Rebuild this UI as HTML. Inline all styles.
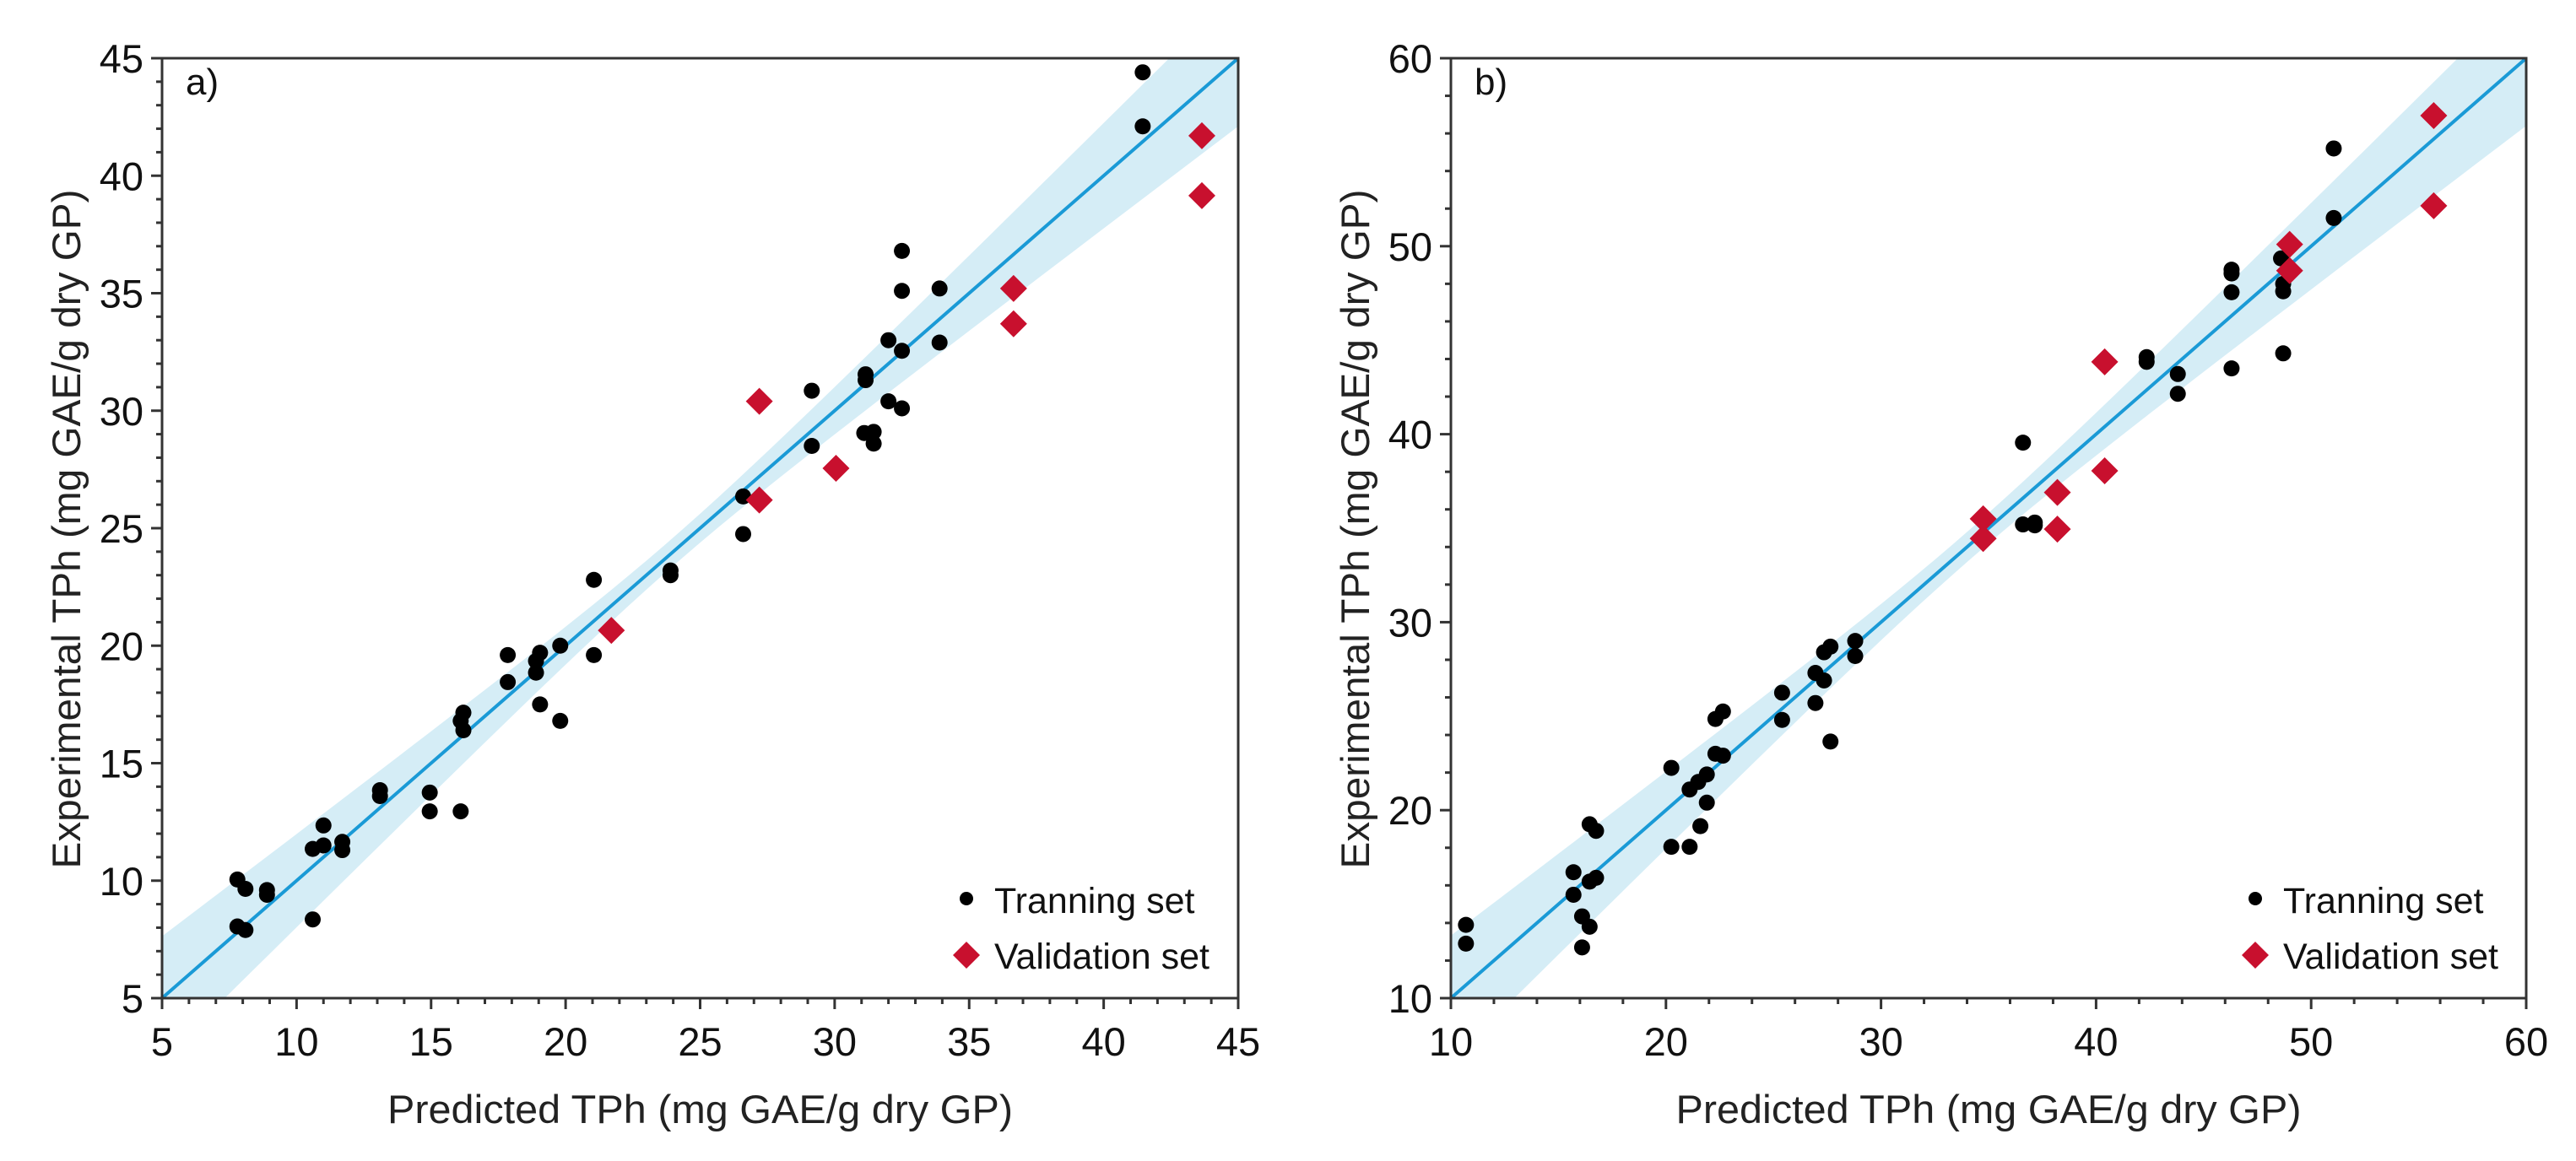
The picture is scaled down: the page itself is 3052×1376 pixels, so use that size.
<!DOCTYPE html>
<html><head><meta charset="utf-8"><style>
html,body{margin:0;padding:0;background:#fff;}
svg{display:block;font-family:"Liberation Sans",sans-serif;}
</style></head><body>
<svg id="chart" width="3052" height="1376" viewBox="0 0 3052 1376" xmlns="http://www.w3.org/2000/svg"></svg>
<script>
// Panel a data
const trainA_x = [41.45,41.45,32.5,32.5,33.9,33.9,32.0,32.5,31.15,31.15,32.0,32.5,29.15,29.15,31.1,31.45,31.45,26.6,26.6,23.9,23.9,21.05,21.05,19.8,19.05,18.9,18.9,17.85,17.85,19.05,19.8,16.2,16.1,16.2,16.1,14.95,14.95,13.1,13.1,11.0,11.0,10.6,11.7,11.7,10.6,8.9,8.9,7.8,8.1,7.8,8.1];
const trainA_y = [44.4,42.1,36.8,35.1,35.2,32.9,33.0,32.55,31.55,31.3,30.4,30.1,30.85,28.5,29.05,29.1,28.6,26.35,24.75,23.2,23.0,22.8,19.6,20.0,19.7,19.35,18.85,19.6,18.45,17.5,16.8,17.15,16.8,16.4,12.95,13.75,12.95,13.85,13.6,12.35,11.5,11.35,11.65,11.3,8.35,9.6,9.4,10.05,9.65,8.05,7.9];
const validA_x = [43.65,43.65,36.65,36.65,27.2,27.2,30.05,21.7];
const validA_y = [41.7,39.15,35.2,33.7,30.4,26.2,27.55,20.65];
const ticksA = [5,10,15,20,25,30,35,40,45];
// Panel b data
const trainB_x = [51.05,51.05,46.3,46.3,46.3,46.3,48.6,48.7,48.7,48.7,42.35,42.35,43.8,43.8,36.6,36.6,37.15,37.15,28.8,28.8,27.65,27.35,26.95,27.35,26.95,27.65,25.4,25.4,22.65,22.3,22.3,22.65,21.9,21.5,21.1,21.9,21.6,20.25,20.25,21.1,16.45,16.75,15.7,15.7,16.45,16.75,16.1,16.45,16.1,10.7,10.7];
const trainB_y = [55.2,51.5,48.75,48.55,47.55,43.5,49.35,48.0,47.6,44.3,44.1,43.85,43.2,42.15,39.55,35.2,35.3,35.15,29.0,28.2,28.7,28.4,27.3,26.9,25.7,23.65,26.25,24.8,25.25,24.85,23.0,22.9,21.9,21.5,21.1,20.4,19.15,22.25,18.05,18.05,19.25,18.9,16.7,15.5,16.2,16.4,14.35,13.8,12.7,13.9,12.9];
const validB_x = [55.7,55.7,49.0,49.0,40.4,40.4,38.2,38.2,34.75,34.75];
const validB_y = [56.95,52.15,50.1,48.7,43.85,38.05,36.9,34.95,35.5,34.45];
const ticksB = [10,20,30,40,50,60];

const NS="http://www.w3.org/2000/svg";
const svg=document.getElementById('chart');
function mk(tag,attrs,parent){const e=document.createElementNS(NS,tag);for(const k in attrs)e.setAttribute(k,attrs[k]);(parent||svg).appendChild(e);return e;}

function panel(cfg){
  const g=mk('g',{});
  
  
  const L=cfg.left,R=cfg.right,T=69,B=1183,min=cfg.min,max=cfg.max;
  const sx=v=>L+(v-min)/(max-min)*(R-L);
  const sy=v=>B-(v-min)/(max-min)*(B-T);
  const cp=mk('clipPath',{id:'clip'+cfg.id},g);
  mk('rect',{x:L,y:T,width:R-L,height:B-T},cp);
  let up=[],lo=[];
  for(let i=0;i<=60;i++){const x=min+(max-min)*i/60;const hw=Math.sqrt(cfg.h0*cfg.h0+cfg.b*(x-cfg.xc)*(x-cfg.xc));up.push(sx(x)+','+sy(x+hw));lo.unshift(sx(x)+','+sy(x-hw));}
  const band=mk('polygon',{points:up.concat(lo).join(' '),fill:'#d5edf6','clip-path':'url(#clip'+cfg.id+')'},g);
  
  
  const fit=mk('line',{x1:sx(min),y1:sy(min),x2:sx(max),y2:sy(max),stroke:'#1a9ad6','stroke-width':4},g);
  
  
  const fr=mk('rect',{x:L,y:T,width:R-L,height:B-T,fill:'none',stroke:'#333','stroke-width':3},g);
  
  
  for(let v=min;v<=max+1e-9;v+=cfg.minor){
    const maj=cfg.ticks.some(t=>Math.abs(t-v)<1e-9);const len=maj?13:7;
    mk('line',{x1:sx(v),y1:B,x2:sx(v),y2:B+len,stroke:'#333','stroke-width':3},g);
    mk('line',{x1:L,y1:sy(v),x2:L-len,y2:sy(v),stroke:'#333','stroke-width':3},g);
  }
  cfg.ticks.forEach(t=>{
    const xt=mk('text',{x:sx(t),y:1251,'font-size':47,'text-anchor':'middle',fill:'#111'},g);
    xt.textContent=t;
    
    
    const yt=mk('text',{x:L-22,y:sy(t)+17,'font-size':47,'text-anchor':'end',fill:'#111'},g);
    yt.textContent=t;
    
    
  });
  cfg.tx.forEach((x,i)=>{
    const c=mk('circle',{cx:sx(x),cy:sy(cfg.ty[i]),r:9.5,fill:'#000'},g);
    
    
  });
  cfg.vx.forEach((x,i)=>{
    const cx=sx(x),cy=sy(cfg.vy[i]),d=16;
    const p=mk('polygon',{points:`${cx},${cy-d} ${cx+d},${cy} ${cx},${cy+d} ${cx-d},${cy}`,fill:'#c8102e'},g);
    
    
  });
  const pl=mk('text',{x:L+28,y:112,'font-size':44,fill:'#111'},g);
  pl.textContent=cfg.label;
  
  
  const lx=L+953;
  const lg=mk('g',{},g);
  
  
  mk('circle',{cx:lx,cy:1065,r:8,fill:'#000'},lg);
  const t1=mk('text',{x:lx+33,y:1082,'font-size':43,fill:'#111'},lg);t1.textContent='Tranning set';
  
  
  mk('polygon',{points:`${lx},${1132-16} ${lx+16},1132 ${lx},${1132+16} ${lx-16},1132`,fill:'#c8102e'},lg);
  const t2=mk('text',{x:lx+33,y:1148,'font-size':43,fill:'#111'},lg);t2.textContent='Validation set';
  
  
  const xt=mk('text',{x:(L+R)/2,y:1331,'font-size':47,'text-anchor':'middle',textLength:741,lengthAdjust:'spacingAndGlyphs',fill:'#222'},g);
  xt.textContent='Predicted TPh (mg GAE/g dry GP)';
  
  
  const ycx=L-113;
  const yt=mk('text',{x:ycx,y:627,'font-size':47,'text-anchor':'middle',textLength:805,lengthAdjust:'spacingAndGlyphs',transform:`rotate(-90 ${ycx} 627)`,dy:16,fill:'#222'},g);
  yt.textContent='Experimental TPh (mg GAE/g dry GP)';
  
  
}
panel({id:'a',name:'panel-a',label:'a)',left:192,right:1467,min:5,max:45,minor:1,ticks:ticksA,tx:trainA_x,ty:trainA_y,vx:validA_x,vy:validA_y,xc:24,h0:0.6,b:0.01825});
panel({id:'b',name:'panel-b',label:'b)',left:1719,right:2993,min:10,max:60,minor:2,ticks:ticksB,tx:trainB_x,ty:trainB_y,vx:validB_x,vy:validB_y,xc:34,h0:0.8,b:0.0182});
</script>
</body></html>
